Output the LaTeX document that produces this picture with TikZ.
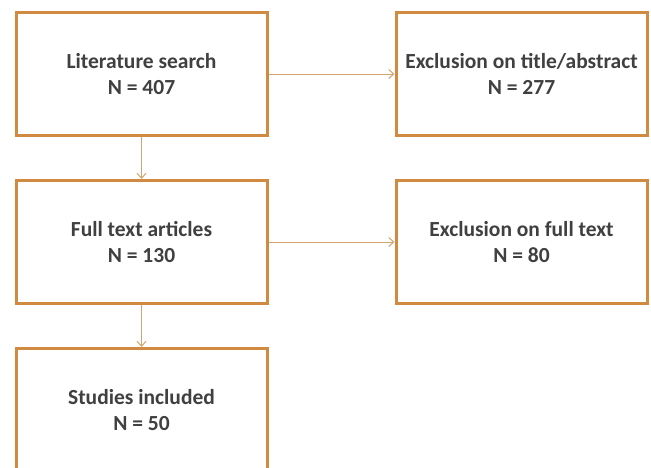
\documentclass[tikz,border=0pt]{standalone}
\usepackage{fontspec}
\setmainfont{Carlito}
\usetikzlibrary{arrows.meta}
\definecolor{boxc}{HTML}{D08A42}
\definecolor{arrc}{HTML}{D6A46C}
\definecolor{txtc}{HTML}{404040}
\begin{document}
\begin{tikzpicture}[x=1pt,y=1pt,
  box/.style={draw=boxc,line width=3pt,fill=white,minimum width=251pt,minimum height=123pt,
    align=center,inner sep=0pt,font=\fontsize{21.5}{26}\selectfont\bfseries,text=txtc},
  conn/.style={draw=arrc,line width=1pt,-{Straight Barb[length=5pt,width=9pt]}}]
\useasboundingbox (0,0) rectangle (651,-467);
\clip (0,0) rectangle (651,-467);
\node[box] (lit) at (141.5,-74) {Literature search\\N = 407};
\node[box] (exa) at (521.5,-74) {Exclusion on title/abstract\\N = 277};
\node[box] (full) at (141.5,-242) {Full text articles\\N = 130};
\node[box] (exf) at (521.5,-242) {Exclusion on full text\\N = 80};
\node[box] (inc) at (141.5,-410) {Studies included\\N = 50};
\draw[conn] (lit) -- (exa);
\draw[conn] (full) -- (exf);
\draw[conn] (lit) -- (full);
\draw[conn] (full) -- (inc);
\end{tikzpicture}
\end{document}
